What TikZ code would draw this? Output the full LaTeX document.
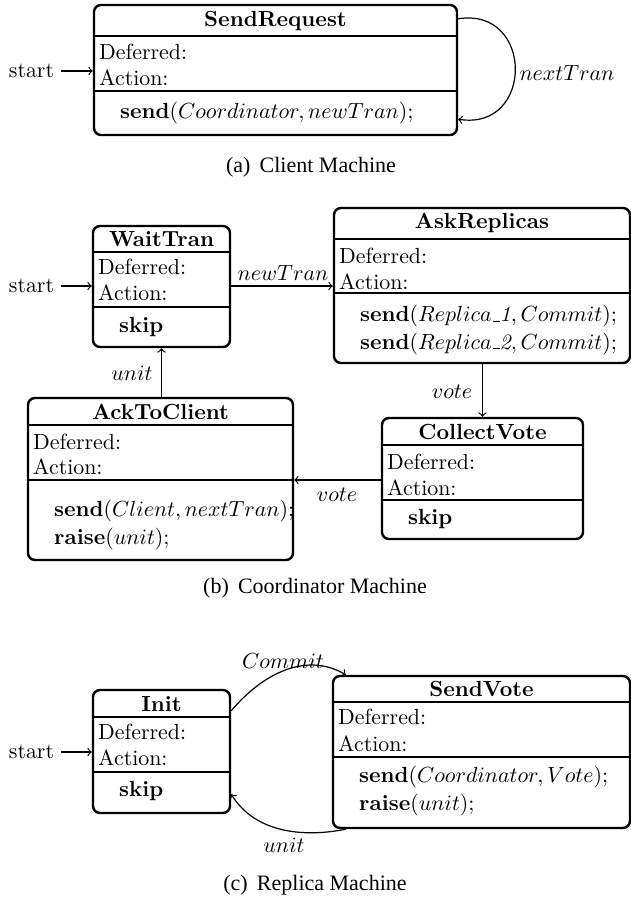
\documentclass[tikz,border=0pt]{standalone}
\usepackage{fontspec}
\newfontfamily\capfont{Liberation Serif}
\usetikzlibrary{fit}
\newcommand{\lowdash}{\mbox{\kern.06em\vbox{\hrule width.3em}}}
\begin{document}
\begin{tikzpicture}[x=0.5pt,y=-0.5pt,
  every node/.style={font=\fontsize{10.95}{13.6}\selectfont},
  state/.style={draw, line width=1.2pt, rounded corners=3.5pt, inner sep=0pt},
  sepline/.style={line width=1.2pt},
  conn/.style={->, line width=0.6pt},
  ttl/.style={inner sep=0pt, font=\fontsize{10.95}{13.6}\selectfont\bfseries},
  dfl/.style={anchor=west, inner sep=0pt, xshift=3pt},
  act/.style={anchor=west, inner sep=0pt, xshift=13.5pt, align=left},
  lbl/.style={inner sep=0pt},
  capt/.style={inner sep=0pt, font=\capfont\fontsize{11}{13}\selectfont}
]
\useasboundingbox (0,0) rectangle (631,901);

% ---------------- (a) Client Machine
\node[state, fit={(94,5) (457,135)}] (sendreq) {};
\draw[sepline] (sendreq.west |- 0,36) -- (sendreq.east |- 0,36);
\draw[sepline] (sendreq.west |- 0,91) -- (sendreq.east |- 0,91);
\node[ttl] (sendreq-t) at (sendreq.center |- 0,21) {SendRequest};
\node[dfl] (sendreq-d) at (sendreq.west |- 0,52) {Deferred:};
\node[dfl] (sendreq-a) at (sendreq.west |- 0,78) {Action:};
\node[act] (sendreq-x) at (sendreq.west |- 0,113) {\textbf{send}$(Coordinator, newTran)$;};
\node (starta) at (31.5,71) {start};
\draw[conn] (starta.east) -- (sendreq.west |- starta.east);
\draw[conn] ([yshift=-7.5pt]sendreq.north east) .. controls +(76,-12) and +(76,12) .. ([yshift=8.5pt]sendreq.south east);
\node[lbl] (nexttran) at (567,73) {$nextTran$};
\node[capt] (capa) at (311,167) {(a)\, Client Machine};

% ---------------- (b) Coordinator Machine
\node[state, fit={(93,226) (230,347)}] (waittran) {};
\draw[sepline] (waittran.west |- 0,252) -- (waittran.east |- 0,252);
\draw[sepline] (waittran.west |- 0,307) -- (waittran.east |- 0,307);
\node[ttl] (waittran-t) at (waittran.center |- 0,239) {WaitTran};
\node[dfl] (waittran-d) at (waittran.west |- 0,267) {Deferred:};
\node[dfl] (waittran-a) at (waittran.west |- 0,293) {Action:};
\node[act] (waittran-x) at (waittran.west |- 0,327) {\textbf{skip}};
\node (startb) at (31.5,286) {start};
\draw[conn] (startb.east) -- (waittran.west |- startb.east);

\node[state, fit={(334,208) (630,363)}] (askrep) {};
\draw[sepline] (askrep.west |- 0,239) -- (askrep.east |- 0,239);
\draw[sepline] (askrep.west |- 0,293) -- (askrep.east |- 0,293);
\node[ttl] (askrep-t) at (askrep.center |- 0,223) {AskReplicas};
\node[dfl] (askrep-d) at (askrep.west |- 0,256) {Deferred:};
\node[dfl] (askrep-a) at (askrep.west |- 0,282) {Action:};
\node[act] (askrep-x) at (askrep.west |- 0,330) {\textbf{send}$(Replica\lowdash\mathit{1}, Commit)$;\\\textbf{send}$(Replica\lowdash\mathit{2}, Commit)$;};

\node[state, fit={(382,418) (583,539)}] (collect) {};
\draw[sepline] (collect.west |- 0,445) -- (collect.east |- 0,445);
\draw[sepline] (collect.west |- 0,500) -- (collect.east |- 0,500);
\node[ttl] (collect-t) at (collect.center |- 0,432) {CollectVote};
\node[dfl] (collect-d) at (collect.west |- 0,462) {Deferred:};
\node[dfl] (collect-a) at (collect.west |- 0,488) {Action:};
\node[act] (collect-x) at (collect.west |- 0,519) {\textbf{skip}};

\node[state, fit={(28,398) (293,560)}] (ack) {};
\draw[sepline] (ack.west |- 0,425) -- (ack.east |- 0,425);
\draw[sepline] (ack.west |- 0,480) -- (ack.east |- 0,480);
\node[ttl] (ack-t) at (ack.center |- 0,412) {AckToClient};
\node[dfl] (ack-d) at (ack.west |- 0,442) {Deferred:};
\node[dfl] (ack-a) at (ack.west |- 0,467) {Action:};
\node[act] (ack-x) at (ack.west |- 0,525) {\textbf{send}$(Client, nextTran)$;\\\textbf{raise}$(unit)$;};

\draw[conn] (waittran.east |- startb.east) -- (askrep.west |- startb.east);
\node[lbl] (newtran) at (283,273) {$newTran$};
\draw[conn] (askrep.south -| collect.north) -- (collect.north);
\node[lbl] (vote1) at (452,392) {$vote$};
\draw[conn] (collect.west |- 0,480) -- (ack.east |- 0,480);
\node[lbl] (vote2) at (337,495) {$vote$};
\draw[conn] (ack.north -| waittran.south) -- (waittran.south);
\node[lbl] (unitb) at (132,373) {$unit$};
\node[capt] (capb) at (315,588) {(b)\, Coordinator Machine};

% ---------------- (c) Replica Machine
\node[state, fit={(93,690) (230,813)}] (init) {};
\draw[sepline] (init.west |- 0,717) -- (init.east |- 0,717);
\draw[sepline] (init.west |- 0,772) -- (init.east |- 0,772);
\node[ttl] (init-t) at (init.center |- 0,704) {Init};
\node[dfl] (init-d) at (init.west |- 0,732) {Deferred:};
\node[dfl] (init-a) at (init.west |- 0,758) {Action:};
\node[act] (init-x) at (init.west |- 0,791) {\textbf{skip}};
\node (startc) at (31.5,752) {start};
\draw[conn] (startc.east) -- (init.west |- startc.east);

\node[state, fit={(333,676) (630,828)}] (sendvote) {};
\draw[sepline] (sendvote.west |- 0,702) -- (sendvote.east |- 0,702);
\draw[sepline] (sendvote.west |- 0,757) -- (sendvote.east |- 0,757);
\node[ttl] (sendvote-t) at (sendvote.center |- 0,689) {SendVote};
\node[dfl] (sendvote-d) at (sendvote.west |- 0,717) {Deferred:};
\node[dfl] (sendvote-a) at (sendvote.west |- 0,744) {Action:};
\node[act] (sendvote-x) at (sendvote.west |- 0,791) {\textbf{send}$(Coordinator, Vote)$;\\\textbf{raise}$(unit)$;};

\draw[conn] ([yshift=-11pt]init.north east) .. controls +(32,-38) and +(-39,-23) .. ([xshift=7pt]sendvote.north west);
\node[lbl] (commit) at (283,661) {$Commit$};
\draw[conn] ([xshift=7pt]sendvote.south west) .. controls +(-40,8) and +(25,40) .. ([yshift=10pt]init.south east);
\node[lbl] (unitc) at (284,845) {$unit$};
\node[capt] (capc) at (315,885) {(c)\, Replica Machine};
\end{tikzpicture}
\end{document}
